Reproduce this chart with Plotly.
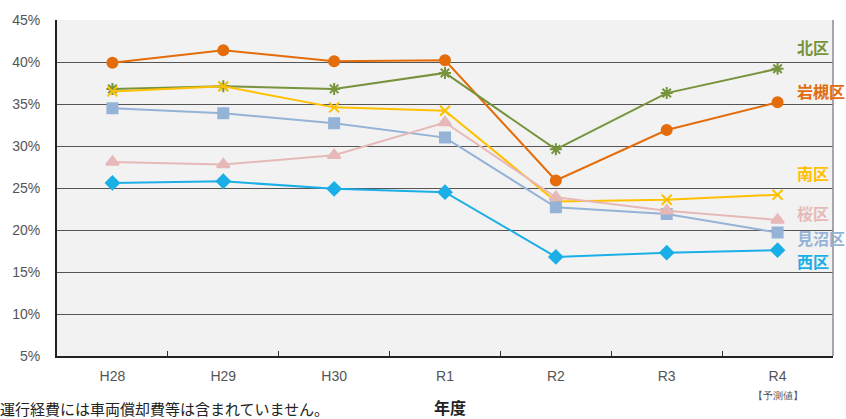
import plotly.graph_objects as go

years = ["H28", "H29", "H30", "R1", "R2", "R3", "R4"]
tick_text = ["H28", "H29", "H30", "R1", "R2", "R3", "R4<br><span style='font-size:10px'>【予測値】</span>"]

iwatsuki = [39.9, 41.4, 40.1, 40.2, 25.9, 31.9, 35.2]
kita = [36.8, 37.1, 36.8, 38.7, 29.6, 36.3, 39.2]
minami = [36.5, 37.1, 34.6, 34.2, 23.4, 23.6, 24.2]
minuma = [34.5, 33.9, 32.7, 31.0, 22.7, 21.9, 19.7]
sakura = [28.1, 27.8, 28.9, 32.8, 23.9, 22.3, 21.2]
nishi = [25.6, 25.8, 24.9, 24.5, 16.8, 17.3, 17.6]

series = [
    ("岩槻区", iwatsuki, "#E46C0A", "circle", 10, 821, 88),
    ("北区", kita, "#77933C", "asterisk-open", 10, 813, 43),
    ("南区", minami, "#FFC000", "x-thin-open", 10, 813, 171),
    ("見沼区", minuma, "#95B3D7", "square", 10, 821, 237),
    ("桜区", sakura, "#E6B9B8", "triangle-up", 11, 813, 211),
    ("西区", nishi, "#1AAFE6", "diamond", 10, 813, 260),
]

W, H = 846, 419
L, R, T, B = 57, 13, 16, 63
pw, ph = W - L - R, H - T - B

def px2paper(px, py):
    return (px - L) / pw, 1 - (py - T) / ph

fig = go.Figure()
for name, vals, color, sym, size, lx, ly in series:
    fig.add_trace(go.Scatter(
        x=years, y=vals, mode="lines+markers", name=name,
        line=dict(color=color, width=2),
        marker=dict(symbol=sym, size=size, color=color,
                    line=dict(color=color, width=2)),
        showlegend=False,
    ))
    ax, ay = px2paper(lx, ly)
    fig.add_annotation(text="<b>" + name + "</b>", x=ax, y=ay, xref="paper", yref="paper",
                       xanchor="center", yanchor="middle",
                       showarrow=False, font=dict(size=16, color=color,
                                                  family="Noto Sans CJK JP"))

fx, fy = px2paper(-2, 409)
fig.add_annotation(text="運行経費には車両償却費等は含まれていません。", x=fx, y=fy,
                   xref="paper", yref="paper", xanchor="left", yanchor="middle",
                   showarrow=False, font=dict(size=15, color="#222222", family="Noto Sans CJK JP"))
gx, gy = px2paper(450, 408)
fig.add_annotation(text="<b>年度</b>", x=gx, y=gy,
                   xref="paper", yref="paper", xanchor="center", yanchor="middle",
                   showarrow=False, font=dict(size=16, color="#222222", family="Noto Sans CJK JP"))

# right border
fig.add_shape(type="line", x0=1, x1=1, y0=0, y1=1, xref="paper", yref="paper",
              line=dict(color="#8C8C8C", width=1.5))

fig.update_layout(
    width=W, height=H,
    margin=dict(l=L, r=R, t=T, b=B),
    paper_bgcolor="white",
    plot_bgcolor="#F2F2F2",
    font=dict(family="Liberation Sans, Arial", color="#555555"),
    xaxis=dict(
        type="category", tickvals=years, ticktext=tick_text,
        tickson="boundaries", ticks="inside", ticklen=5, tickcolor="#333333",
        showgrid=False, showline=True, linecolor="#222222", linewidth=2,
        tickfont=dict(size=14, color="#555555"), range=[-0.5, 6.5],
        ticklabelstandoff=6,
    ),
    yaxis=dict(
        range=[5, 45], tickvals=[5, 10, 15, 20, 25, 30, 35, 40, 45],
        ticktext=["5%", "10%", "15%", "20%", "25%", "30%", "35%", "40%", "45%"],
        showgrid=True, gridcolor="#555555", gridwidth=1.2,
        showline=True, linecolor="#222222", linewidth=2,
        zeroline=False, ticks="", tickfont=dict(size=14, color="#555555"),
        ticklabelstandoff=12,
    ),
)

fig.write_html("out.html", config={"displayModeBar": False},
               post_script="document.body.style.margin='0';document.body.style.overflow='hidden';")
